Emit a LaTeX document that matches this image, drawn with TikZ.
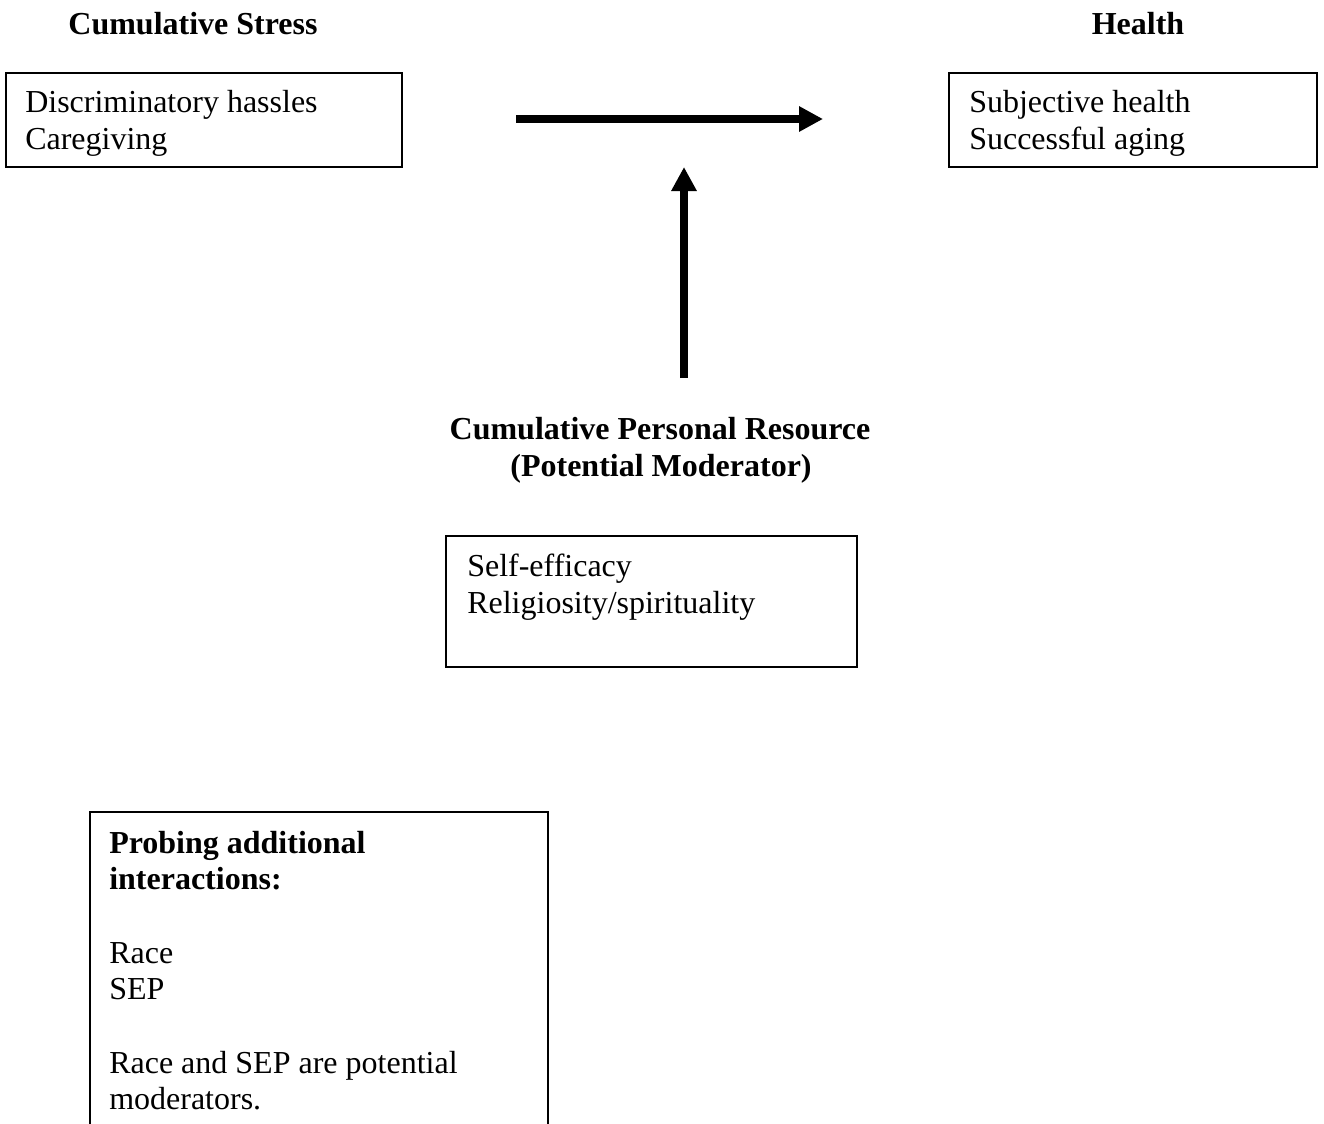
\documentclass[tikz,border=0pt]{standalone}
\usepackage{fontspec}
\setmainfont{Liberation Serif}
\usetikzlibrary{arrows.meta}
\begin{document}
\begin{tikzpicture}[x=0.75pt,y=-0.75pt,
  box/.style={draw, line width=1.5pt, inner sep=0pt, anchor=north west},
  txt/.style={anchor=base west, inner sep=0pt, font=\fontsize{24}{27.5}\selectfont},
  head/.style={anchor=base, inner sep=0pt, font=\fontsize{24}{27.5}\selectfont\bfseries},
  bigarrow/.style={line width=6pt, -{Triangle[length=18pt,width=18pt]}}]
\useasboundingbox (0,0) rectangle (1324,1124);
\clip (0,0) rectangle (1324,1124);
% headers
\node[head] (hstress) at (193,35) {Cumulative Stress};
\node[head] (hhealth) at (1138,35) {Health};
\node[head] (hres1) at (660,439) {Cumulative Personal Resource};
\node[head] (hres2) at (661,476) {(Potential Moderator)};
% boxes
\node[box, minimum width=297pt, minimum height=70.5pt] (stress) at (5,72) {};
\node[box, minimum width=276pt, minimum height=70.5pt] (health) at (948,72) {};
\node[box, minimum width=308.25pt, minimum height=98.25pt] (res) at (445,535) {};
\node[anchor=north west, inner sep=0pt, minimum width=342.75pt, minimum height=246pt] (probe) at (90,812) {};
\draw[line width=1.5pt] (probe.south west) -- (probe.north west) -- (probe.north east) -- (probe.south east);
% box texts
\node[txt] (s1) at (25,113) {Discriminatory hassles};
\node[txt] (s2) at (25,149) {Caregiving};
\node[txt] (h1) at (969,113) {Subjective health};
\node[txt] (h2) at (969,149) {Successful aging};
\node[txt] (r1) at (467,576) {Self-efficacy};
\node[txt] (r2) at (467,613) {Religiosity/spirituality};
\node[txt,font=\fontsize{24}{27.5}\selectfont\bfseries] (p1) at (109,853) {Probing additional};
\node[txt,font=\fontsize{24}{27.5}\selectfont\bfseries] (p2) at (109,889) {interactions:};
\node[txt] (p3) at (109,963) {Race};
\node[txt] (p4) at (109,999) {SEP};
\node[txt] (p5) at (109,1073) {Race and SEP are potential};
\node[txt] (p6) at (109,1109) {moderators.};
% arrows
\coordinate (a1s) at (516,119);
\coordinate (a1e) at (823,119);
\coordinate (a2s) at (684,378);
\coordinate (a2e) at (684,167);
\draw[bigarrow] (a1s) -- (a1e);
\draw[bigarrow] (a2s) -- (a2e);
\end{tikzpicture}
\end{document}
